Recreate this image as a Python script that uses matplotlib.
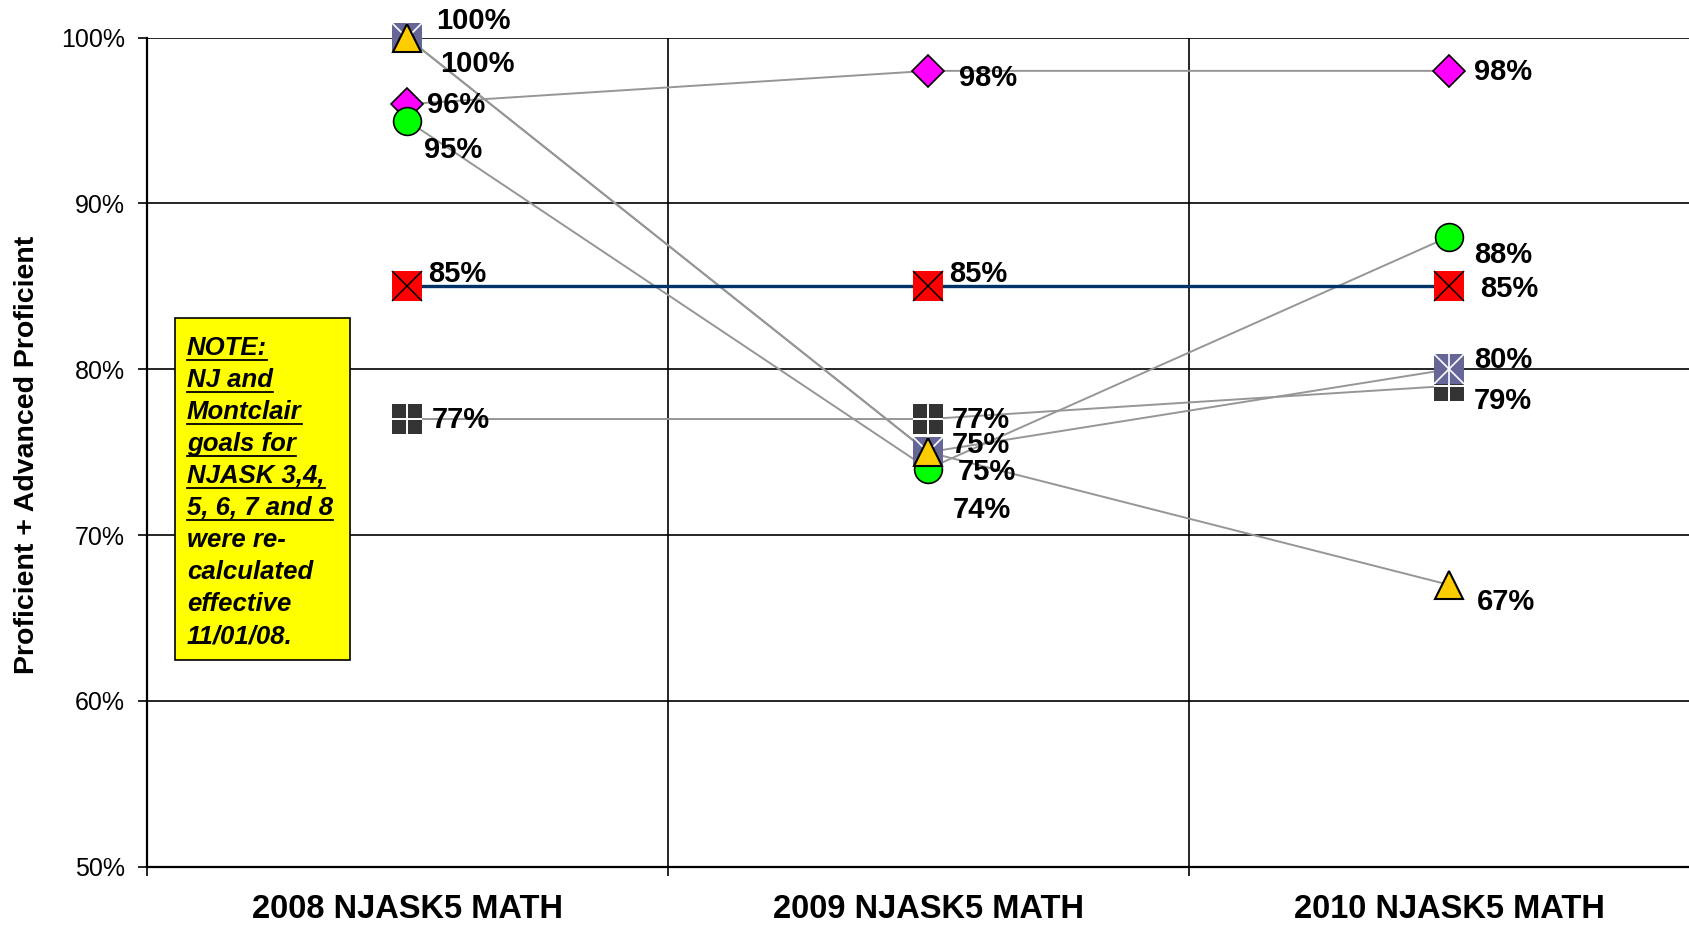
#!/usr/bin/env python3
"""NJASK5 math proficiency by year, with the NJ goal line and a note box."""

import matplotlib

matplotlib.use("Agg")
import matplotlib.pyplot as plt
from matplotlib import font_manager
from matplotlib.lines import Line2D
from matplotlib.patches import Rectangle
from matplotlib.ticker import FixedLocator, NullFormatter

categories = ["2008 NJASK5 MATH", "2009 NJASK5 MATH", "2010 NJASK5 MATH"]
magenta_pct = [96, 98, 98]
green_pct = [95, 74, 88]
gold_pct = [100, 75, 67]
slate_pct = [100, 75, 80]
charcoal_pct = [77, 77, 79]
goal_pct = [85, 85, 85]
y_ticks = [50, 60, 70, 80, 90, 100]

note_lines = [
    "NOTE:",
    "NJ and",
    "Montclair",
    "goals for",
    "NJASK 3,4,",
    "5, 6, 7 and 8",
    "were re-",
    "calculated",
    "effective",
    "11/01/08.",
]
n_underlined = 6

# label offsets in points (dx, dy) for each series at each year
label_offsets = {
    "magenta": [(14, -1), (22, -5), (18, -1)],
    "green": [(12, -21), (18, -30), (18, -13)],
    "gold": [(21, 12), (21, -14), (20, -12)],
    "slate": [(24, -19), (17, 5), (18, 7)],
    "charcoal": [(18, -1), (17, -1), (18, -11)],
    "goal": [(15, 9), (15, 9), (22, -2)],
}


def has_font(name):
    try:
        font_manager.findfont(font_manager.FontProperties(family=name), fallback_to_default=False)
        return True
    except ValueError:
        return False


def main() -> None:
    plt.rcParams["font.family"] = ["Liberation Sans", "DejaVu Sans"]

    W, H = 1690, 927
    fig = plt.figure(figsize=(W / 100, H / 100), dpi=100)
    left, bottom, top = 146.6, 866.7, 37.7
    ax = fig.add_axes([left / W, 1 - bottom / H, (3 * 521) / W, (bottom - top) / H])

    x = list(range(len(categories)))
    ax.set_xlim(-0.5, 2.5)
    ax.set_ylim(50, 100)

    # connecting lines
    for vals in (magenta_pct, green_pct, gold_pct, slate_pct, charcoal_pct):
        ax.plot(x, vals, color="#969696", lw=1.4, zorder=2, clip_on=False)
    ax.plot(x, goal_pct, color="#003366", lw=2.4, zorder=2)

    # markers
    ax.plot(x, magenta_pct, ls="none", marker="D", ms=16.5, mfc="#FF00FF", mec="black",
            mew=1.2, zorder=4, clip_on=False)
    ax.plot(x, green_pct, ls="none", marker="o", ms=20, mfc="#00FF00", mec="black",
            mew=1.2, zorder=5, clip_on=False)
    ax.plot(x, goal_pct, ls="none", marker="s", ms=22, mfc="#FF0000", mew=0, zorder=6)
    ax.plot(x, goal_pct, ls="none", marker="x", ms=22, mec="black", mew=1.1, zorder=6.1)
    ax.plot(x, charcoal_pct, ls="none", marker="s", ms=22, mfc="#333333", mew=0, zorder=7)
    ax.plot(x, charcoal_pct, ls="none", marker="+", ms=22, mec="white", mew=1.4, zorder=7.1)
    ax.plot(x, slate_pct, ls="none", marker="s", ms=22, mfc="#666699", mew=0, zorder=8,
            clip_on=False)
    ax.plot(x, slate_pct, ls="none", marker="x", ms=22, mec="white", mew=1.2, zorder=8.1,
            clip_on=False)
    ax.plot(x, slate_pct, ls="none", marker="|", ms=22, mec="white", mew=1.2, zorder=8.1,
            clip_on=False)
    ax.plot(x, gold_pct, ls="none", marker="^", ms=20, mfc="#FFCC00", mec="black",
            mew=1.5, zorder=9, clip_on=False)

    series = {
        "magenta": magenta_pct,
        "green": green_pct,
        "gold": gold_pct,
        "slate": slate_pct,
        "charcoal": charcoal_pct,
        "goal": goal_pct,
    }
    for key, vals in series.items():
        for i, v in enumerate(vals):
            ax.annotate(f"{v}%", (i, v), xytext=label_offsets[key][i], textcoords="offset points",
                        ha="left", va="center", fontsize=21, fontweight="bold", zorder=10,
                        annotation_clip=False)

    # axes, ticks, grid
    for side in ("top", "right"):
        ax.spines[side].set_visible(False)
    for side in ("left", "bottom"):
        ax.spines[side].set_linewidth(1.6)
    ax.set_yticks(y_ticks)
    ax.set_yticklabels([f"{t}%" for t in y_ticks])
    ax.tick_params(axis="y", length=6.5, width=1.2, pad=9, labelsize=18)
    ax.xaxis.set_major_locator(FixedLocator([-0.5, 0.5, 1.5, 2.5]))
    ax.xaxis.set_major_formatter(NullFormatter())
    ax.xaxis.set_minor_locator(FixedLocator(x))
    ax.set_xticks(x, categories, minor=True)
    ax.tick_params(axis="x", which="major", length=6.5, width=1.2)
    ax.tick_params(axis="x", which="minor", length=0, pad=20, labelsize=23.5)
    for lbl in ax.get_xticklabels(minor=True):
        lbl.set_fontweight("bold")
    ax.grid(True, which="major", color="black", lw=1.2, zorder=1)

    if has_font("Liberation Sans Narrow"):
        fig.text(27.5 / W, 1 - 455 / H, "Proficient + Advanced Proficient", rotation=90,
                 ha="center", va="center", fontsize=24, fontweight="bold",
                 family="Liberation Sans Narrow")
    else:
        fig.text(27.5 / W, 1 - 455 / H, "Proficient + Advanced Proficient", rotation=90,
                 ha="center", va="center", fontsize=20.5, fontweight="bold")

    # note box
    bx0, by0, bx1, by1 = 174.6, 318, 350.5, 660
    fig.add_artist(Rectangle((bx0 / W, 1 - by1 / H), (bx1 - bx0) / W, (by1 - by0) / H,
                             transform=fig.transFigure, facecolor="#FFFF00",
                             edgecolor="black", lw=1.2, zorder=5))
    texts = []
    for k, line in enumerate(note_lines):
        t = fig.text(187 / W, 1 - (355 + 32 * k) / H, line, ha="left", va="baseline",
                     fontsize=18.5, fontweight="bold", fontstyle="italic", zorder=6)
        texts.append(t)

    fig.canvas.draw()
    inv = fig.transFigure.inverted()
    for k, t in enumerate(texts[:n_underlined]):
        bb = t.get_window_extent()
        ybase = H - (355 + 32 * k) - 5
        (fx0, fy), (fx1, _) = inv.transform([(bb.x0, ybase), (bb.x1, ybase)])
        fig.add_artist(Line2D([fx0, fx1], [fy, fy], transform=fig.transFigure,
                              color="black", lw=1.3, zorder=6))

    fig.savefig("out.png", dpi=100)
    plt.close(fig)


if __name__ == "__main__":
    main()
